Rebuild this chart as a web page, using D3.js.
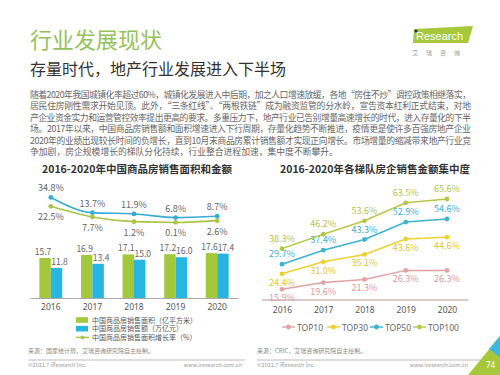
<!DOCTYPE html>
<html>
<head>
<meta charset="utf-8">
<script src="https://cdn.jsdelivr.net/npm/d3@7"></script>
<style>
  body { margin: 0; background: #fff; }
  svg { display: block; font-family: "Noto Sans CJK SC", "Noto Sans", sans-serif; }
</style>
</head>
<body>
<div id="chart"></div>
<script>
// ---- data ----
var years = ['2016', '2017', '2018', '2019', '2020'];

// left chart
var salesArea = [15.7, 16.9, 17.1, 17.2, 17.6];      // 亿平方米
var salesAmount = [11.8, 13.4, 15.0, 16.0, 17.4];    // 万亿元
var amountGrowth = [34.8, 13.7, 11.9, 6.8, 8.7];     // %
var areaGrowth = [22.5, 7.7, 1.2, 0.1, 2.6];         // %
var leftLegend = ['中国商品房销售面积（亿平方米）', '中国商品房销售额（万亿元）', '中国商品房销售面积增长率（%）'];

// right chart
var tierNames = ['TOP10', 'TOP30', 'TOP50', 'TOP100'];
var top10 = [15.9, 19.6, 21.3, 26.3, 26.3];
var top30 = [24.4, 31.0, 35.1, 43.6, 44.6];
var top50 = [29.7, 37.4, 43.3, 52.9, 54.6];
var top100 = [38.3, 46.2, 53.6, 63.5, 65.6];

var bodyLines = [
  '随着2020年我国城镇化率超过60%，城镇化发展进入中后期，加之人口增速放缓，各地“房住不炒”调控政策相继落实，',
  '居民住房刚性需求开始见顶。此外，“三条红线”、“两根铁链”成为融资监管的分水岭，宣告资本红利正式结束，对地',
  '产企业资金实力和运营管控效率提出更高的要求。多重压力下，地产行业已告别增量高速增长的时代，进入存量化的下半',
  '场。2017年以来，中国商品房销售额和面积增速进入下行周期，存量化趋势不断推进，疫情更是使许多百强房地产企业',
  '2020年的业绩出现较长时间的负增长，直到10月末商品房累计销售额才实现正向增长。市场增量的缩减带来地产行业竞',
  '争加剧，房企规模增长的梯队分化持续，行业整合进程加速，集中度不断攀升。'
];

var green = '#a3c93a', blue = '#27b5e3';
var lineGreen = '#a8c544', lineBlue = '#36acd6';
var tierColors = ['#e3a1a4', '#f0cf2e', '#3bb3d2', '#b3c845'];
var tierLabelColors = ['#d99aa0', '#e3c42a', '#39afcf', '#b2c24c'];

var svg = d3.select('#chart').append('svg')
  .attr('width', 500).attr('height', 375);

// ---- header ----
svg.append('text').attr('x', 30).attr('y', 48)
  .attr('font-size', 22).attr('fill', '#95c25a').text('行业发展现状');
svg.append('text').attr('x', 30).attr('y', 75)
  .attr('font-size', 16).attr('fill', '#333').text('存量时代，地产行业发展进入下半场');

// logo
var logo = svg.append('g');
logo.append('path').attr('d', 'M414,29 L473,26 L468,43 L413,43 Z').attr('fill', '#a6c83a');
logo.append('circle').attr('cx', 416).attr('cy', 31).attr('r', 1.6).attr('fill', '#1d3550');
logo.append('text').attr('x', 416).attr('y', 40).attr('font-size', 11)
  .attr('font-family', 'Liberation Sans, Arial, sans-serif')
  .attr('fill', '#fff').text('Research');
logo.append('text').attr('x', 412).attr('y', 55).attr('font-size', 6)
  .attr('fill', '#999').attr('letter-spacing', 8).text('艾瑞咨询');

// body paragraph
svg.append('g').selectAll('text').data(bodyLines).join('text')
  .attr('x', 30)
  .attr('y', function(d, i) { return 98 + i * 11.4; })
  .attr('font-size', 8.8).attr('fill', '#666')
  .attr('textLength', function(d, i) { return i < bodyLines.length - 1 ? 441 : null; })
  .attr('lengthAdjust', 'spacing')
  .text(function(d) { return d; });

// ---- left chart ----
svg.append('text').attr('x', 137).attr('y', 173).attr('text-anchor', 'middle')
  .attr('font-size', 10.5).attr('font-weight', 'bold').attr('fill', '#333')
  .text('2016-2020年中国商品房销售面积和金额');

var xL = d3.scaleBand().domain(years).range([30, 238]).paddingInner(0.45).paddingOuter(0.225);
var xSub = d3.scaleBand().domain(['area', 'amount']).range([0, xL.bandwidth()]);
var yBar = d3.scaleLinear().domain([0, 20]).range([298, 247]);
var yRate = d3.scaleLinear().domain([0, 40]).range([222.5, 193.7]);

var left = svg.append('g');
years.forEach(function(yr, i) {
  var x0 = xL(yr);
  left.append('rect').attr('x', x0 + xSub('area')).attr('width', xSub.bandwidth())
    .attr('y', yBar(salesArea[i])).attr('height', yBar(0) - yBar(salesArea[i])).attr('fill', green);
  left.append('rect').attr('x', x0 + xSub('amount')).attr('width', xSub.bandwidth())
    .attr('y', yBar(salesAmount[i])).attr('height', yBar(0) - yBar(salesAmount[i])).attr('fill', blue);
  left.append('text').attr('x', x0 + xSub('area') + xSub.bandwidth() / 2 - 2)
    .attr('y', yBar(salesArea[i]) - 3).attr('text-anchor', 'middle')
    .attr('font-size', 8.5).attr('fill', '#666').text(salesArea[i].toFixed(1));
  left.append('text').attr('x', x0 + xSub('amount') + xSub.bandwidth() / 2 + 3)
    .attr('y', yBar(salesAmount[i]) - 3).attr('text-anchor', 'middle')
    .attr('font-size', 8.5).attr('fill', '#666').text(salesAmount[i].toFixed(1));
});

var xAxisL = left.append('g').attr('transform', 'translate(0,298)')
  .call(d3.axisBottom(xL).tickSize(0).tickPadding(6));
xAxisL.select('.domain').attr('stroke', '#aaa');
xAxisL.selectAll('text').attr('font-size', 8.5).attr('fill', '#555')
  .attr('font-family', '"Noto Sans", sans-serif');

var cx = function(d, i) { return xL(years[i]) + xL.bandwidth() / 2; };
var rateLine = d3.line().x(cx).y(function(d) { return yRate(d); }).curve(d3.curveMonotoneX);

[[amountGrowth, lineBlue, -6], [areaGrowth, lineGreen, 14]].forEach(function(s) {
  left.append('path').datum(s[0]).attr('d', rateLine)
    .attr('fill', 'none').attr('stroke', s[1]).attr('stroke-width', 1.6);
  left.selectAll(null).data(s[0]).join('circle')
    .attr('cx', cx).attr('cy', function(d) { return yRate(d); })
    .attr('r', 2.4).attr('fill', s[1]);
  left.selectAll(null).data(s[0]).join('text')
    .attr('x', cx).attr('y', function(d) { return yRate(d) + s[2]; })
    .attr('text-anchor', 'middle').attr('font-size', 9).attr('fill', '#666')
    .text(function(d) { return d.toFixed(1) + '%'; });
});

// left legend
var legL = left.append('g');
leftLegend.forEach(function(name, i) {
  var ly = 320 + i * 8.7;
  if (i < 2) {
    legL.append('rect').attr('x', 76).attr('y', ly - 2.8).attr('width', 12).attr('height', 5.6)
      .attr('fill', i === 0 ? green : blue);
  } else {
    legL.append('line').attr('x1', 76).attr('x2', 89).attr('y1', ly).attr('y2', ly)
      .attr('stroke', lineGreen).attr('stroke-width', 1.4);
    legL.append('circle').attr('cx', 82.5).attr('cy', ly).attr('r', 2).attr('fill', lineGreen);
  }
  legL.append('text').attr('x', 92).attr('y', ly + 2.5).attr('font-size', 7)
    .attr('fill', '#555').text(name);
});

// ---- right chart ----
svg.append('text').attr('x', 375).attr('y', 173).attr('text-anchor', 'middle')
  .attr('font-size', 10.5).attr('font-weight', 'bold').attr('fill', '#333')
  .text('2016-2020年各梯队房企销售金额集中度');

var xR = d3.scalePoint().domain(years).range([282, 447]);
var yR = d3.scaleLinear().domain([10, 70]).range([300, 191]);
var right = svg.append('g');

var xAxisR = right.append('g').attr('transform', 'translate(0,300)')
  .call(d3.axisBottom(xR).tickSize(0).tickPadding(7));
xAxisR.select('.domain').attr('d', 'M262,0H468').attr('stroke', '#b89494');
xAxisR.selectAll('text').attr('font-size', 8.5).attr('fill', '#555')
  .attr('font-family', '"Noto Sans", sans-serif');

var tierLine = d3.line()
  .x(function(d, i) { return xR(years[i]); })
  .y(function(d) { return yR(d); });

var tiers = [top10, top30, top50, top100];
var tierOffsets = [12, 12, -7, -7];
tiers.forEach(function(vals, t) {
  right.append('path').datum(vals).attr('d', tierLine)
    .attr('fill', 'none').attr('stroke', tierColors[t]).attr('stroke-width', 1.5);
  right.selectAll(null).data(vals).join('circle')
    .attr('cx', function(d, i) { return xR(years[i]); })
    .attr('cy', function(d) { return yR(d); })
    .attr('r', 2.4).attr('fill', tierColors[t]);
  right.selectAll(null).data(vals).join('text')
    .attr('x', function(d, i) { return xR(years[i]); })
    .attr('y', function(d) { return yR(d) + tierOffsets[t]; })
    .attr('text-anchor', 'middle').attr('font-size', 9).attr('fill', tierLabelColors[t])
    .text(function(d) { return d.toFixed(1) + '%'; });
});

// right legend
var legX = [282, 327, 370, 413];
tierNames.forEach(function(name, t) {
  var g = right.append('g');
  g.append('line').attr('x1', legX[t]).attr('x2', legX[t] + 13).attr('y1', 327).attr('y2', 327)
    .attr('stroke', tierColors[t]).attr('stroke-width', 1.4);
  g.append('circle').attr('cx', legX[t] + 6.5).attr('cy', 327).attr('r', 2.4).attr('fill', tierColors[t]);
  g.append('text').attr('x', legX[t] + 15).attr('y', 330.5).attr('font-size', 8.5)
    .attr('fill', '#666').attr('font-family', '"Noto Sans", sans-serif').text(name);
});

// ---- sources & footer ----
svg.append('text').attr('x', 28).attr('y', 353).attr('font-size', 6).attr('fill', '#888')
  .text('来源：国家统计局，艾瑞咨询研究院自主绘制。');
svg.append('text').attr('x', 257).attr('y', 353).attr('font-size', 6).attr('fill', '#888')
  .text('来源：CRIC，艾瑞咨询研究院自主绘制。');

[[28, 245], [257, 493]].forEach(function(seg) {
  svg.append('line').attr('x1', seg[0]).attr('x2', seg[1]).attr('y1', 360).attr('y2', 360)
    .attr('stroke', '#aaa').attr('stroke-width', 0.8);
  svg.append('text').attr('x', seg[0]).attr('y', 367).attr('font-size', 5.5).attr('fill', '#999')
    .text('©2021.7 iResearch Inc.');
});
svg.append('text').attr('x', 242).attr('y', 367).attr('text-anchor', 'end')
  .attr('font-size', 5.5).attr('fill', '#999').text('www.iresearch.com.cn');
svg.append('text').attr('x', 468).attr('y', 367).attr('text-anchor', 'end')
  .attr('font-size', 5.5).attr('fill', '#999').text('www.iresearch.com.cn');

// corner decoration
svg.append('path').attr('d', 'M468,375 L500,336 L500,375 Z').attr('fill', '#a6c83a');
svg.append('path').attr('d', 'M489,349 L500,336 L500,357 Z').attr('fill', '#3bb8e0');
svg.append('text').attr('x', 486).attr('y', 368).attr('font-size', 8).attr('fill', '#fff')
  .attr('font-family', '"Noto Sans", sans-serif').text('74');
</script>
</body>
</html>
